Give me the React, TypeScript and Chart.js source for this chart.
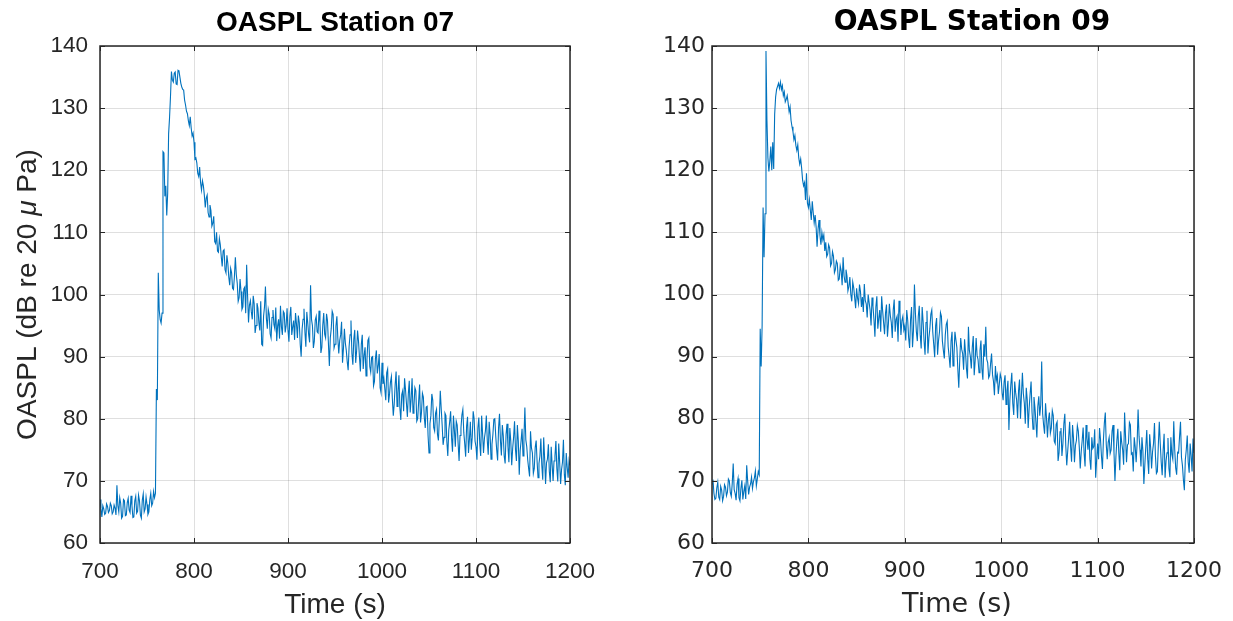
import React, { useEffect, useRef } from "react";
import { Chart, registerables } from "chart.js";

Chart.register(...registerables);

// ---- data ----
const T_START = 700;
const T_STEP = 1;

// Station 07, one sample per second from 700 s to 1200 s (rows of 20 s)
const station07 = [
  67.0, 65.5, 64.2, 66.0, 65.5, 64.6, 64.8, 66.3, 65.9, 64.9, 65.2, 66.4, 66.0, 64.7, 65.0, 66.1, 65.6, 64.5, 69.3, 66.0,
  65.0, 67.3, 66.4, 64.0, 64.3, 67.0, 66.8, 64.4, 64.5, 66.5, 67.2, 65.3, 64.9, 67.6, 66.0, 64.1, 64.2, 66.8, 67.5, 64.8,
  65.1, 67.7, 66.8, 64.5, 64.0, 66.9, 67.9, 65.0, 65.5, 67.4, 66.2, 64.6, 65.0, 67.0, 68.0, 66.0, 66.4, 68.3, 67.3, 68.0,
  84.8, 83.0, 103.5, 97.5, 96.0, 95.4, 97.0, 123.0, 122.8, 115.8, 117.5, 112.7, 116.3, 125.9, 128.5, 131.9, 135.9, 134.5, 134.2, 135.6,
  135.8, 133.9, 133.8, 136.1, 136.0, 135.0, 134.0, 133.4, 133.0, 132.9, 131.3, 130.5, 129.5, 129.1, 128.0, 127.2, 128.6, 126.8, 125.5, 126.0,
  124.5, 121.8, 122.0, 121.2, 119.5, 119.0, 120.5, 118.0, 116.8, 118.3, 117.5, 116.0, 114.0, 115.5, 116.0, 113.2, 112.5, 114.4, 113.5, 111.0,
  111.5, 112.6, 108.5, 108.2, 110.0, 107.0, 106.8, 109.0, 108.0, 106.1, 104.5, 107.0, 107.2, 104.0, 103.5, 106.3, 105.0, 102.8, 101.5, 104.2,
  103.5, 101.0, 100.8, 102.9, 106.0, 103.2, 101.8, 98.9, 99.5, 102.5, 100.5, 97.6, 98.0, 100.9, 101.2, 97.0, 104.8, 99.8, 95.5, 98.3,
  99.0, 97.2, 96.0, 99.8, 98.5, 93.8, 95.0, 98.6, 97.8, 95.5, 94.2, 98.9, 92.0, 91.8, 96.5, 98.0, 101.3, 96.2, 94.5, 97.6,
  96.8, 93.7, 93.0, 96.3, 97.5, 95.2, 94.5, 97.9, 92.5, 95.0, 96.0, 92.9, 98.2, 94.8, 93.5, 97.3, 97.0, 93.9, 95.0, 97.8,
  94.2, 92.4, 96.5, 98.0, 93.5, 94.8, 95.8, 92.7, 97.0, 95.3, 93.0, 96.6, 95.5, 92.0, 90.0, 94.4, 96.0, 97.7, 94.0, 91.6,
  97.2, 95.4, 93.5, 92.3, 101.5, 96.0, 95.0, 91.4, 92.5, 95.9, 96.5, 94.0, 93.8, 97.4, 95.5, 90.6, 91.5, 95.1, 97.0, 93.6,
  93.0, 96.9, 95.8, 92.1, 88.5, 93.0, 94.5, 97.3, 96.8, 91.4, 92.0, 94.9, 96.5, 93.0, 90.5, 92.6, 93.5, 95.6, 89.0, 91.3,
  94.5, 92.2, 91.0, 89.2, 87.8, 91.6, 93.5, 95.8, 90.5, 88.7, 92.8, 94.3, 89.0, 90.9, 94.2, 92.5, 90.0, 87.6, 92.0, 93.5,
  88.0, 90.2, 91.5, 86.9, 89.5, 92.6, 93.0, 88.4, 87.5, 89.9, 90.0, 85.3, 86.0, 89.7, 91.0, 87.3, 88.5, 90.4, 85.0, 84.2,
  89.0, 85.6, 86.5, 84.8, 83.0, 87.4, 88.0, 82.6, 84.0, 85.9, 86.8, 83.3, 80.5, 82.4, 85.5, 87.6, 82.0, 84.2, 87.0, 81.8,
  79.8, 83.9, 84.5, 81.2, 86.5, 84.7, 82.5, 80.3, 84.0, 86.1, 81.0, 83.2, 86.5, 80.9, 82.0, 85.0, 84.5, 79.6, 80.0, 82.8,
  85.5, 79.4, 81.0, 84.1, 83.5, 80.2, 78.5, 81.9, 82.0, 77.3, 74.5, 79.2, 80.5, 84.0, 83.0, 78.6, 78.0, 80.9, 81.5, 77.5,
  76.5, 80.0, 84.5, 81.6, 79.0, 75.8, 77.0, 80.9, 80.5, 76.3, 74.0, 78.1, 79.5, 81.2, 77.0, 74.7, 80.5, 78.2, 75.5, 79.6,
  79.0, 76.0, 73.2, 77.3, 78.5, 80.6, 81.5, 77.8, 76.0, 73.9, 78.8, 80.3, 74.5, 76.7, 79.5, 75.0, 77.0, 81.2, 80.0, 76.4,
  75.5, 73.4, 78.5, 80.2, 76.0, 74.0, 80.5, 77.6, 74.5, 76.9, 78.0, 80.5, 76.5, 74.2, 79.5, 77.4, 73.5, 75.9, 77.5, 79.9,
  80.0, 77.2, 75.0, 73.3, 78.5, 80.8, 76.5, 74.1, 79.0, 77.3, 74.0, 72.8, 77.5, 79.2, 75.5, 73.0, 78.5, 76.4, 72.5, 75.2,
  77.0, 79.6, 75.0, 73.2, 79.0, 76.4, 71.0, 74.9, 76.5, 78.4, 74.0, 77.0, 81.8, 76.6, 75.5, 73.4, 72.0, 70.7, 78.0, 75.3,
  74.5, 71.2, 72.0, 75.4, 76.5, 73.1, 70.5, 72.8, 74.0, 76.8, 72.5, 70.2, 77.0, 73.6, 69.5, 72.9, 73.5, 75.9, 71.5, 69.8,
  75.5, 72.6, 70.0, 73.2, 74.0, 76.4, 72.0, 69.9, 76.0, 73.0, 69.5, 71.8, 73.0, 76.6, 71.0, 69.3, 74.5, 72.2, 70.5, 73.3,
  72.5,
];

// Station 09, one sample per second from 700 s to 1200 s (rows of 20 s)
const station09 = [
  69.5, 70.2, 68.0, 67.0, 67.2, 68.9, 69.8, 67.4, 67.0, 69.1, 68.5, 66.8, 67.5, 69.4, 69.0, 67.6, 68.2, 70.3, 70.0, 68.1,
  67.5, 69.6, 72.8, 68.6, 68.0, 66.9, 69.5, 70.4, 67.3, 66.8, 68.8, 70.1, 67.0, 68.3, 69.2, 67.1, 72.5, 70.0, 67.8, 69.0,
  69.5, 70.6, 68.8, 69.9, 70.5, 71.6, 69.2, 70.3, 71.5, 71.0, 94.5, 88.4, 95.0, 114.0, 106.0, 113.0, 139.2, 128.0, 122.0, 119.8,
  121.5, 123.8, 120.0, 124.5, 120.2, 129.0, 131.8, 133.0, 133.5, 134.0, 133.2, 134.2, 133.0, 133.6, 132.0, 132.6, 131.0, 131.4, 132.0, 130.8,
  129.4, 130.2, 128.0, 127.0, 126.2, 124.9, 125.6, 124.0, 123.2, 124.1, 122.0, 121.0, 121.8, 120.3, 118.4, 117.5, 118.0, 115.2, 119.5, 114.7,
  114.0, 115.3, 113.6, 112.0, 115.0, 113.2, 111.5, 112.8, 110.9, 107.7, 110.5, 112.0, 109.5, 108.0, 110.0, 108.8, 109.6, 107.0, 108.4, 106.1,
  106.5, 108.0, 107.5, 104.6, 105.0, 106.9, 106.2, 103.5, 104.0, 105.4, 105.0, 102.3, 102.5, 104.6, 103.8, 101.5, 106.0, 103.0, 102.0, 104.0,
  103.0, 100.6, 101.3, 102.8, 100.0, 98.9, 102.0, 101.1, 99.5, 97.8, 101.0, 99.4, 98.5, 101.6, 100.5, 98.0, 99.6, 97.2, 101.7, 99.0,
  98.5, 96.3, 100.0, 98.7, 97.5, 95.0, 99.5, 98.1, 96.0, 93.2, 98.0, 99.7, 94.5, 96.2, 97.5, 94.0, 99.7, 97.4, 95.5, 93.6,
  97.0, 98.4, 93.2, 95.3, 98.5, 96.6, 95.5, 93.0, 97.5, 99.2, 94.0, 96.0, 96.5, 92.4, 99.0, 97.1, 93.5, 95.8, 96.5, 94.3,
  95.0, 92.6, 97.5, 95.9, 93.0, 91.4, 96.0, 98.0, 91.5, 94.2, 101.6, 97.0, 94.0, 92.5, 96.5, 98.2, 93.5, 91.3, 98.0, 95.6,
  92.5, 90.3, 95.5, 97.4, 90.5, 93.0, 94.5, 96.8, 97.5, 94.0, 92.0, 89.9, 95.0, 96.2, 90.3, 92.6, 94.0, 97.1, 96.5, 92.5,
  91.0, 89.7, 93.5, 95.2, 95.7, 91.6, 90.0, 88.2, 92.5, 94.0, 88.5, 90.1, 94.0, 92.7, 91.5, 88.0, 85.0, 89.5, 93.0, 91.2,
  90.5, 87.9, 92.8, 90.6, 88.0, 86.5, 94.8, 91.0, 90.0, 88.1, 91.5, 93.3, 87.0, 89.4, 93.0, 90.2, 89.5, 87.4, 91.0, 92.6,
  88.0, 86.3, 92.0, 90.0, 94.8, 89.6, 89.0, 86.6, 87.0, 88.9, 90.5, 87.1, 86.0, 83.8, 88.5, 86.2, 87.0, 84.0, 85.5, 87.2,
  86.5, 84.1, 83.0, 85.9, 87.0, 82.3, 84.5, 86.1, 78.2, 83.0, 85.5, 87.4, 82.5, 80.6, 86.0, 84.2, 83.0, 80.1, 84.5, 86.3,
  80.0, 83.8, 87.4, 84.0, 82.5, 79.2, 85.0, 83.1, 78.5, 81.7, 84.0, 86.0, 81.0, 78.3, 83.5, 81.8, 79.5, 77.0, 82.0, 83.6,
  80.5, 82.2, 89.2, 80.8, 79.0, 77.6, 82.5, 80.1, 77.0, 79.8, 81.0, 77.7, 78.5, 81.3, 80.5, 76.4, 76.0, 79.1, 79.5, 73.2,
  74.5, 77.9, 78.5, 74.0, 76.0, 79.2, 80.8, 75.6, 72.5, 74.8, 77.0, 79.5, 75.5, 73.1, 79.0, 76.9, 73.0, 75.7, 76.5, 78.9,
  78.0, 75.4, 72.0, 74.7, 76.5, 78.6, 74.5, 72.3, 79.0, 76.8, 75.0, 77.9, 73.5, 71.8, 77.0, 75.2, 75.5, 78.3, 70.5, 73.4,
  76.0, 73.5, 78.5, 76.7, 74.0, 71.9, 76.5, 79.3, 81.0, 75.8, 73.5, 76.2, 77.0, 74.4, 75.0, 78.0, 79.0, 74.6, 70.0, 73.9,
  76.5, 78.4, 74.5, 71.7, 78.0, 76.2, 75.0, 72.6, 81.0, 77.1, 73.0, 75.8, 76.0, 79.4, 79.0, 74.3, 74.5, 71.5, 77.0, 75.5,
  73.0, 76.1, 81.5, 77.2, 75.0, 72.3, 77.0, 74.8, 69.5, 72.6, 75.5, 78.2, 73.5, 71.1, 77.5, 75.4, 72.0, 74.7, 76.0, 79.3,
  74.0, 71.2, 71.5, 75.8, 79.5, 76.0, 73.0, 70.9, 75.0, 77.6, 70.5, 73.2, 74.5, 76.9, 72.0, 70.6, 77.0, 74.3, 73.5, 79.6,
  75.0, 72.1, 71.0, 74.6, 74.5, 77.1, 79.5, 73.8, 72.5, 70.2, 68.5, 73.4, 75.0, 77.3, 73.0, 71.3, 76.0, 74.1, 71.5, 76.8,
  74.5,
];

const xTickValues = [700, 800, 900, 1000, 1100, 1200];
const yTickValues = [60, 70, 80, 90, 100, 110, 120, 130, 140];
const X_MIN = 700;
const X_MAX = 1200;
const Y_MIN = 60;
const Y_MAX = 140;

const titleLeft = "OASPL Station 07";
const titleRight = "OASPL Station 09";
const xLabel = "Time (s)";
const yLabelParts = ["OASPL (dB re 20 ", "\u03bc", " Pa)"];

// ---- style ----
const LINE_COLOR = "#0072BD";
const AXIS_COLOR = "#262626";
const GRID_COLOR = "rgba(38,38,38,0.15)";
const W = 1233;
const H = 621;
const SPLIT = 616;

type PanelSpec = {
  values: number[];
  yAxisWidth: number;
  padRight: number;
  family: string;
  tickSize: number;
  tickPadX: number;
  tickPadY: number;
  title: string;
  titleX: number;
  titleSize: number;
  xLabelX: number;
  xLabelSize: number;
  showYLabel: boolean;
};

function toPoints(values: number[]) {
  return values.map((v, i) => ({ x: T_START + i * T_STEP, y: v }));
}

function makeChart(canvas: HTMLCanvasElement, spec: PanelSpec) {
  const framePlugin = {
    id: "frame",
    afterDatasetsDraw(chart: any) {
      const { ctx, chartArea, scales } = chart;
      const { left, right, top, bottom } = chartArea;
      ctx.save();
      ctx.strokeStyle = AXIS_COLOR;
      ctx.lineWidth = 1;
      const tl = 5;
      ctx.beginPath();
      xTickValues.forEach((v) => {
        const x = Math.round(scales.x.getPixelForValue(v)) + 0.5;
        ctx.moveTo(x, top);
        ctx.lineTo(x, top + tl);
        ctx.moveTo(x, bottom);
        ctx.lineTo(x, bottom - tl);
      });
      yTickValues.forEach((v) => {
        const y = Math.round(scales.y.getPixelForValue(v)) + 0.5;
        ctx.moveTo(left, y);
        ctx.lineTo(left + tl, y);
        ctx.moveTo(right, y);
        ctx.lineTo(right - tl, y);
      });
      ctx.stroke();
      ctx.lineWidth = 1.5;
      ctx.strokeRect(left, top, right - left, bottom - top);
      ctx.restore();
    },
    afterDraw(chart: any) {
      const { ctx, chartArea } = chart;
      ctx.save();
      ctx.fillStyle = "#000000";
      ctx.textAlign = "center";
      ctx.textBaseline = "middle";
      ctx.font = `bold ${spec.titleSize}px ${spec.family}`;
      ctx.fillText(spec.title, spec.titleX, 23);
      ctx.fillStyle = AXIS_COLOR;
      ctx.font = `${spec.xLabelSize}px ${spec.family}`;
      ctx.fillText(xLabel, spec.xLabelX, 605);
      if (spec.showYLabel) {
        const normal = `${spec.xLabelSize}px ${spec.family}`;
        const italic = `italic ${spec.xLabelSize}px ${spec.family}`;
        const fonts = [normal, italic, normal];
        const widths = yLabelParts.map((p, i) => {
          ctx.font = fonts[i];
          return ctx.measureText(p).width;
        });
        const total = widths.reduce((a, b) => a + b, 0);
        const cy = (chartArea.top + chartArea.bottom) / 2;
        ctx.translate(28, cy);
        ctx.rotate(-Math.PI / 2);
        ctx.textAlign = "left";
        let x = -total / 2;
        yLabelParts.forEach((p, i) => {
          ctx.font = fonts[i];
          ctx.fillText(p, x, 0);
          x += widths[i];
        });
      }
      ctx.restore();
    },
  };

  return new Chart(canvas, {
    type: "line",
    data: {
      datasets: [
        {
          data: toPoints(spec.values),
          borderColor: LINE_COLOR,
          backgroundColor: LINE_COLOR,
          borderWidth: 1.1,
          pointRadius: 0,
          fill: false,
          tension: 0,
        },
      ],
    },
    options: {
      animation: false,
      responsive: false,
      maintainAspectRatio: false,
      events: [],
      layout: { padding: { top: 46, right: spec.padRight, left: 0, bottom: 0 } },
      plugins: {
        legend: { display: false },
        tooltip: { enabled: false },
        title: { display: false },
      },
      scales: {
        x: {
          type: "linear",
          min: X_MIN,
          max: X_MAX,
          afterBuildTicks: (s: any) => {
            s.ticks = xTickValues.map((v) => ({ value: v }));
          },
          afterFit: (s: any) => {
            s.height = H - 543;
            s.paddingLeft = 0;
            s.paddingRight = 0;
          },
          grid: { color: GRID_COLOR, drawTicks: false, lineWidth: 1 },
          border: { display: false },
          ticks: {
            autoSkip: false,
            maxRotation: 0,
            padding: spec.tickPadX,
            color: AXIS_COLOR,
            font: { family: spec.family, size: spec.tickSize },
            callback: (v: any) => String(v),
          },
        },
        y: {
          type: "linear",
          min: Y_MIN,
          max: Y_MAX,
          afterBuildTicks: (s: any) => {
            s.ticks = yTickValues.map((v) => ({ value: v }));
          },
          afterFit: (s: any) => {
            s.width = spec.yAxisWidth;
            s.paddingTop = 0;
            s.paddingBottom = 0;
          },
          grid: { color: GRID_COLOR, drawTicks: false, lineWidth: 1 },
          border: { display: false },
          ticks: {
            autoSkip: false,
            padding: spec.tickPadY,
            color: AXIS_COLOR,
            font: { family: spec.family, size: spec.tickSize },
            callback: (v: any) => String(v),
          },
        },
      },
    },
    plugins: [framePlugin],
  } as any);
}

const LEFT_FAMILY = '"Liberation Sans", Arial, sans-serif';
const RIGHT_FAMILY = '"DejaVu Sans", sans-serif';

export default function App() {
  const leftRef = useRef<HTMLCanvasElement>(null);
  const rightRef = useRef<HTMLCanvasElement>(null);

  useEffect(() => {
    const charts: Chart[] = [];
    if (leftRef.current) {
      charts.push(
        makeChart(leftRef.current, {
          values: station07,
          yAxisWidth: 100,
          padRight: SPLIT - 570,
          family: LEFT_FAMILY,
          tickSize: 22.5,
          tickPadX: 15,
          tickPadY: 12,
          title: titleLeft,
          titleX: 335,
          titleSize: 28,
          xLabelX: 335,
          xLabelSize: 28,
          showYLabel: true,
        })
      );
    }
    if (rightRef.current) {
      charts.push(
        makeChart(rightRef.current, {
          values: station09,
          yAxisWidth: 712 - SPLIT,
          padRight: W - 1194,
          family: RIGHT_FAMILY,
          tickSize: 22,
          tickPadX: 15,
          tickPadY: 7,
          title: titleRight,
          titleX: 972 - SPLIT,
          titleSize: 28,
          xLabelX: 957 - SPLIT,
          xLabelSize: 27,
          showYLabel: false,
        })
      );
    }
    return () => charts.forEach((c) => c.destroy());
  }, []);

  return (
    <div style={{ position: "fixed", left: 0, top: 0, width: W, height: H, background: "#ffffff" }}>
      <canvas
        ref={leftRef}
        width={SPLIT}
        height={H}
        style={{ position: "absolute", left: 0, top: 0, width: SPLIT, height: H }}
      />
      <canvas
        ref={rightRef}
        width={W - SPLIT}
        height={H}
        style={{ position: "absolute", left: SPLIT, top: 0, width: W - SPLIT, height: H }}
      />
    </div>
  );
}
